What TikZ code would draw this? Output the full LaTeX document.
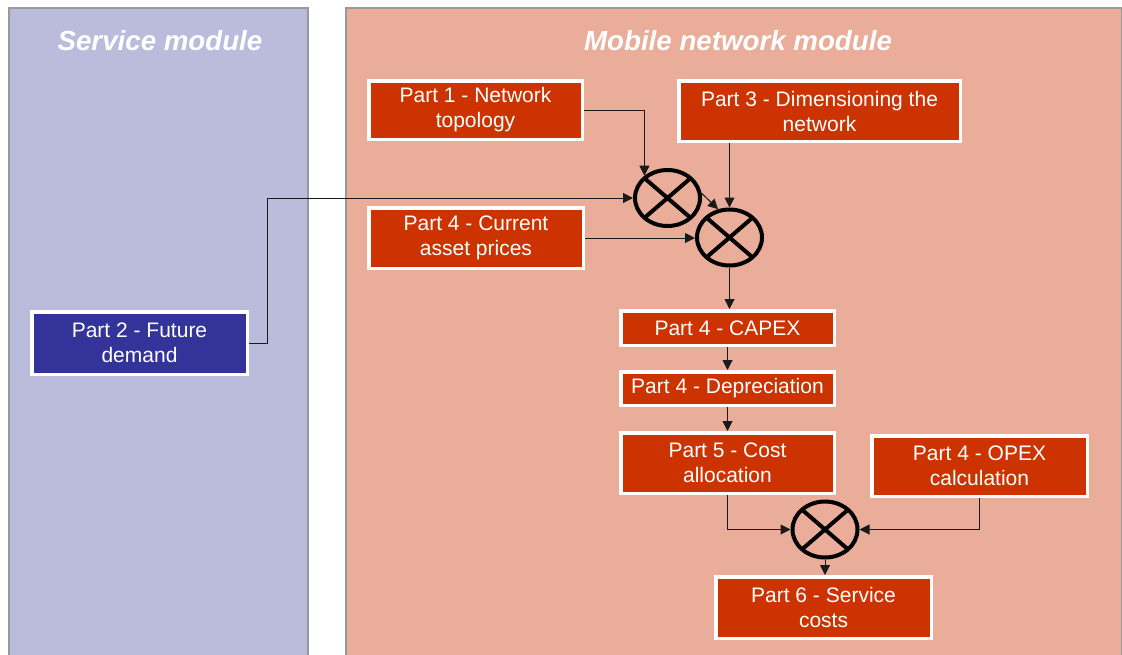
\documentclass[tikz,border=0pt]{standalone}
\usepackage{fontspec}
\setmainfont{Liberation Sans}
\usetikzlibrary{arrows.meta,shapes.geometric,calc}
\definecolor{lav}{HTML}{BBBBDB}
\definecolor{salmon}{HTML}{EAAD9A}
\definecolor{brick}{HTML}{CC3300}
\definecolor{navy}{HTML}{333399}
\definecolor{panelline}{HTML}{999999}
\definecolor{linegray}{HTML}{1A1A1A}
\begin{document}
\begin{tikzpicture}[x=1pt,y=-1pt,
 panel/.style={draw=panelline, line width=1.5pt},
 title/.style={text=white, font=\fontsize{27.7}{32}\selectfont\bfseries\itshape},
 box/.style={draw=white, line width=3.5pt, fill=brick, text=white, align=center, inner sep=0pt, font=\fontsize{21}{25}\selectfont},
 mult/.style={ellipse, draw=black, line width=4pt, minimum width=65pt, minimum height=56pt, inner sep=0pt,
   path picture={\draw[line width=4pt] (path picture bounding box.north west) -- (path picture bounding box.south east) (path picture bounding box.north east) -- (path picture bounding box.south west);}},
 conn/.style={draw=linegray, line width=1pt, -{Triangle[length=10pt,width=10pt]}}
]
\useasboundingbox (0,0) rectangle (1122,654);
\fill[white] (0,0) rectangle (1122,654);
% panels
\draw[panel, fill=lav] (9,8) rectangle (308,670);
\draw[panel, fill=salmon] (346,8) rectangle (1121.5,670);
\node[title] (t1) at (160,41) {Service module};
\node[title] (t2) at (738,41) {Mobile network module};
% boxes
\node[box, minimum width=213.5pt, minimum height=58.5pt] (p1) at (475.5,110) {Part 1 - Network\\topology};
\node[box, minimum width=281.5pt, minimum height=60.5pt] (p3) at (819.5,111) {Part 3 - Dimensioning the\\network};
\node[box, minimum width=214.5pt, minimum height=60.5pt] (p4a) at (476,238) {Part 4 - Current\\asset prices};
\node[box, fill=navy, minimum width=215.5pt, minimum height=62.5pt] (p2) at (139.5,343) {Part 2 - Future\\demand};
\node[box, minimum width=213.5pt, minimum height=34.5pt] (capex) at (727.5,328) {Part 4 - CAPEX};
\node[box, minimum width=213.5pt, minimum height=33.5pt] (depr) at (727.5,388.5) {Part 4 - Depreciation};
\node[box, minimum width=213.5pt, minimum height=60.5pt] (cost) at (727.5,463) {Part 5 - Cost\\allocation};
\node[box, minimum width=215.5pt, minimum height=60.5pt] (opex) at (979.5,466) {Part 4 - OPEX\\calculation};
\node[box, minimum width=215.5pt, minimum height=61.5pt] (p6) at (823.5,607.5) {Part 6 - Service\\costs};
% multipliers
\node[mult] (c1) at (667.5,198) {};
\node[mult] (c2) at (729.5,237.5) {};
\node[mult] (c3) at (825,529.5) {};
% connectors
\draw[conn] (p1.east) -| (c1.136);
\draw[conn] (p2.east) -- ++(18,0) |- (c1.west);
\draw[conn] (c1.8) -- (c2.112);
\draw[conn] (c2.north |- p3.south) -- (c2.north);
\draw[conn] (p4a.east) -- (p4a.east -| c2.west);
\draw[conn] (c2.south) -- (c2.south |- capex.north);
\draw[conn] (capex.south) -- (depr.north);
\draw[conn] (depr.south) -- (cost.north);
\draw[conn] (cost.south) |- (c3.west);
\draw[conn] (opex.south) |- (c3.east);
\draw[conn] (c3.south) -- (c3.south |- p6.north);
\end{tikzpicture}
\end{document}
